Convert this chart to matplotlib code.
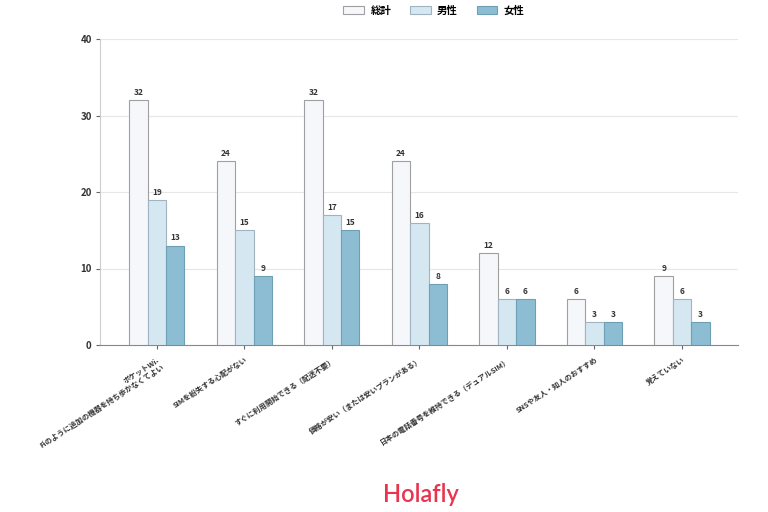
import matplotlib
matplotlib.use("Agg")
import matplotlib.pyplot as plt
import numpy as np

plt.rcParams['font.family'] = ['Noto Sans CJK JP', 'DejaVu Sans']

categories = [
    "ポケットWi-\nFiのように追加の機器を持ち歩かなくてよい",
    "SIMを紛失する心配がない",
    "すぐに利用開始できる（配送不要）",
    "価格が安い（または安いプランがある）",
    "日本の電話番号を維持できる（デュアルSIM）",
    "SNSや友人・知人のおすすめ",
    "覚えていない",
]
series_names = ["総計", "男性", "女性"]
total = [32, 24, 32, 24, 12, 6, 9]
male = [19, 15, 17, 16, 6, 3, 6]
female = [13, 9, 15, 8, 6, 3, 3]
yticks = [0, 10, 20, 30, 40]

colors = ["#f5f7fa", "#d5e8f1", "#8dbdd3"]
edges = ["#a0a0a0", "#9fb4c0", "#6f9fb5"]

fig = plt.figure(figsize=(7.68, 5.12), dpi=100)
ax = fig.add_axes([100/768, 1-345/512, 638/768, 306/512])

x = np.arange(len(categories))
w = 0.21
for k, (vals, name) in enumerate(zip([total, male, female], series_names)):
    pos = x + (k - 1) * w
    bars = ax.bar(pos, vals, w, color=colors[k], edgecolor=edges[k], linewidth=0.8, label=name, zorder=3)
    for b, v in zip(bars, vals):
        ax.text(b.get_x() + b.get_width()/2, v + 0.4, str(v), ha='center', va='bottom',
                fontsize=6, fontweight='bold', color='#333333')

ax.set_xlim(-0.65, 6.64)
ax.set_ylim(0, 40)
ax.set_yticks(yticks)
ax.set_yticklabels([str(t) for t in yticks], fontsize=7, fontweight='bold', color='#333333')
ax.yaxis.grid(True, color='#e6e6e6', linewidth=0.8, zorder=0)
ax.set_axisbelow(True)
ax.set_xticks(x)
ax.set_xticklabels(categories, rotation=33, ha='right', rotation_mode='anchor',
                   fontsize=5.3, fontweight='bold', color='#333333', multialignment='right')
ax.tick_params(axis='x', length=3, color='#666666', pad=5)
ax.tick_params(axis='y', length=3, color='#666666', pad=3)
for s in ['top', 'right']:
    ax.spines[s].set_visible(False)
ax.spines['left'].set_color('#cccccc')
ax.spines['bottom'].set_color('#888888')

fig.legend(loc='upper center', bbox_to_anchor=(0.565, 1.008), ncol=3, frameon=False,
           handlelength=2.0, handleheight=0.8, columnspacing=1.8, handletextpad=0.6,
           prop={'weight': 'bold', 'size': 7.5})

fig.text(0.548, 1-495/512, "Holafly", ha='center', va='center', fontsize=17,
         fontweight='semibold', color='#e8344e', family='Lato')

fig.savefig("out.png", dpi=100, facecolor='white')
